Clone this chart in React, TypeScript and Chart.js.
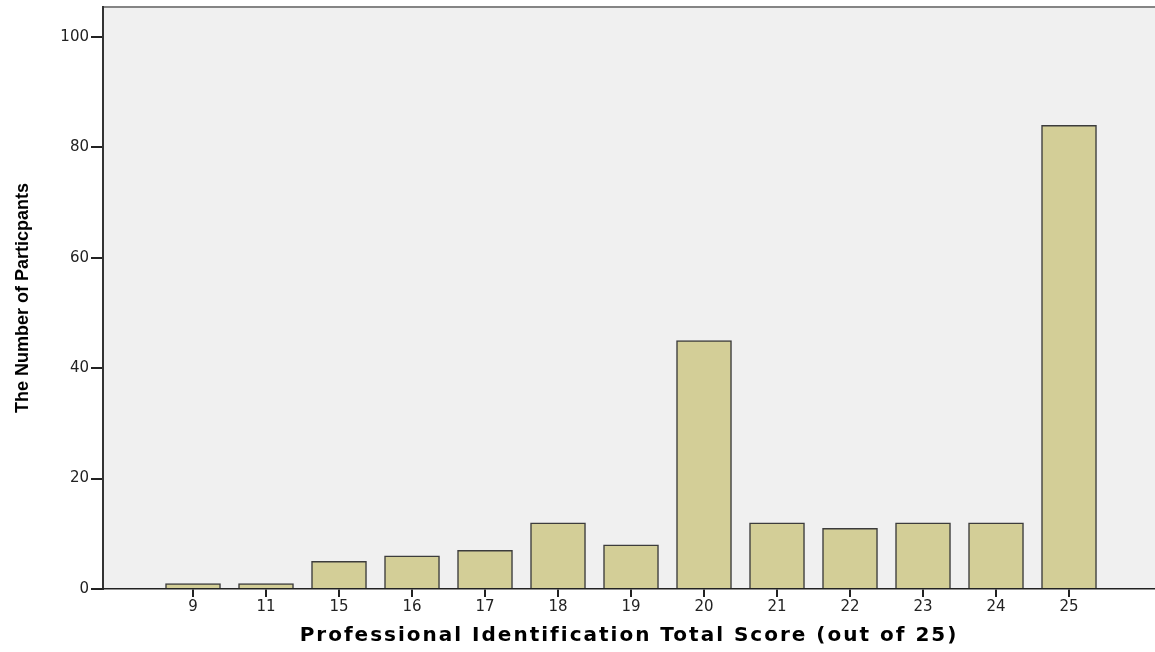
import React, { useEffect, useRef } from "react";
import { Chart, registerables } from "chart.js";

Chart.register(...registerables);

const categories: string[] = ["9", "11", "15", "16", "17", "18", "19", "20", "21", "22", "23", "24", "25"];
const participants: number[] = [1, 1, 5, 6, 7, 12, 8, 45, 12, 11, 12, 12, 84];
const yTicks: number[] = [0, 20, 40, 60, 80, 100];

const plotBgPlugin = {
  id: "plotBg",
  beforeDraw(chart: any) {
    const { ctx, chartArea } = chart;
    (ctx as any).letterSpacing = "0px";
    ctx.save();
    ctx.fillStyle = "#f0f0f0";
    ctx.fillRect(chartArea.left, chartArea.top, chartArea.right - chartArea.left, chartArea.bottom - chartArea.top);
    ctx.strokeStyle = "#858585";
    ctx.lineWidth = 2;
    ctx.beginPath();
    ctx.moveTo(chartArea.left, chartArea.top);
    ctx.lineTo(chartArea.right, chartArea.top);
    ctx.stroke();
    ctx.restore();
  },
  afterDatasetsDraw(chart: any) {
    (chart.ctx as any).letterSpacing = "2px";
  },
  afterDraw(chart: any) {
    (chart.ctx as any).letterSpacing = "0px";
  },
};

export default function App() {
  const canvasRef = useRef<HTMLCanvasElement | null>(null);

  useEffect(() => {
    if (!canvasRef.current) return;
    const chart = new Chart(canvasRef.current, {
      type: "bar",
      data: {
        datasets: [
          {
            data: participants.map((v, i) => ({ x: i, y: v })),
            backgroundColor: "#d3ce97",
            borderColor: "#3c3c3c",
            borderWidth: 1.5,
            barThickness: 55,
          },
        ],
      },
      options: {
        animation: false,
        responsive: true,
        maintainAspectRatio: false,
        devicePixelRatio: 1,
        layout: { padding: { left: 0, right: 0, top: 7, bottom: 0 } },
        plugins: {
          legend: { display: false },
          tooltip: { enabled: false },
        },
        scales: {
          x: {
            type: "linear",
            offset: false,
            min: -1.233,
            max: 13.178,
            afterBuildTicks: (scale: any) => {
              scale.ticks = categories.map((_, i) => ({ value: i }));
            },
            afterFit: (scale: any) => {
              scale.height = 63;
              scale.paddingLeft = 0;
              scale.paddingRight = 0;
            },
            ticks: {
              autoSkip: false,
              maxRotation: 0,
              padding: 1,
              color: "#222",
              z: 0,
              font: { family: "'DejaVu Sans', sans-serif", size: 15 },
              callback: (v: any) => categories[v as number] ?? "",
            },
            grid: {
              display: true,
              offset: false,
              drawOnChartArea: false,
              drawTicks: true,
              tickLength: 8,
              color: "#222",
              lineWidth: 2,
              z: 1,
            },
            border: { display: true, color: "#222", width: 1.5, z: 1 },
            title: {
              display: true,
              text: "Professional Identification Total Score (out of 25)",
              color: "#000",
              font: { family: "'DejaVu Sans', sans-serif", size: 20, weight: "bold" },
              padding: { top: 0, bottom: 4 },
            },
          },
          y: {
            min: 0,
            max: 105.43,
            afterBuildTicks: (scale: any) => {
              scale.ticks = yTicks.map((v) => ({ value: v }));
            },
            afterFit: (scale: any) => {
              scale.width = 103;
              scale.paddingTop = 0;
              scale.paddingBottom = 0;
            },
            ticks: {
              padding: 2,
              color: "#222",
              font: { family: "'DejaVu Sans', sans-serif", size: 15 },
            },
            grid: {
              display: true,
              drawOnChartArea: false,
              drawTicks: true,
              tickLength: 12,
              color: "#222",
              lineWidth: 2,
            },
            border: { display: true, color: "#333", width: 2 },
            title: {
              display: true,
              text: "The Number of Particpants",
              color: "#000",
              font: { family: "'Liberation Sans', Arial, sans-serif", size: 18, weight: "bold" },
              padding: { top: 12, bottom: 0 },
            },
          },
        },
      },
      plugins: [plotBgPlugin],
    } as any);
    return () => chart.destroy();
  }, []);

  return (
    <div style={{ position: "absolute", left: 0, top: 0, width: 1155, height: 652, background: "#fff" }}>
      <canvas ref={canvasRef} />
    </div>
  );
}
